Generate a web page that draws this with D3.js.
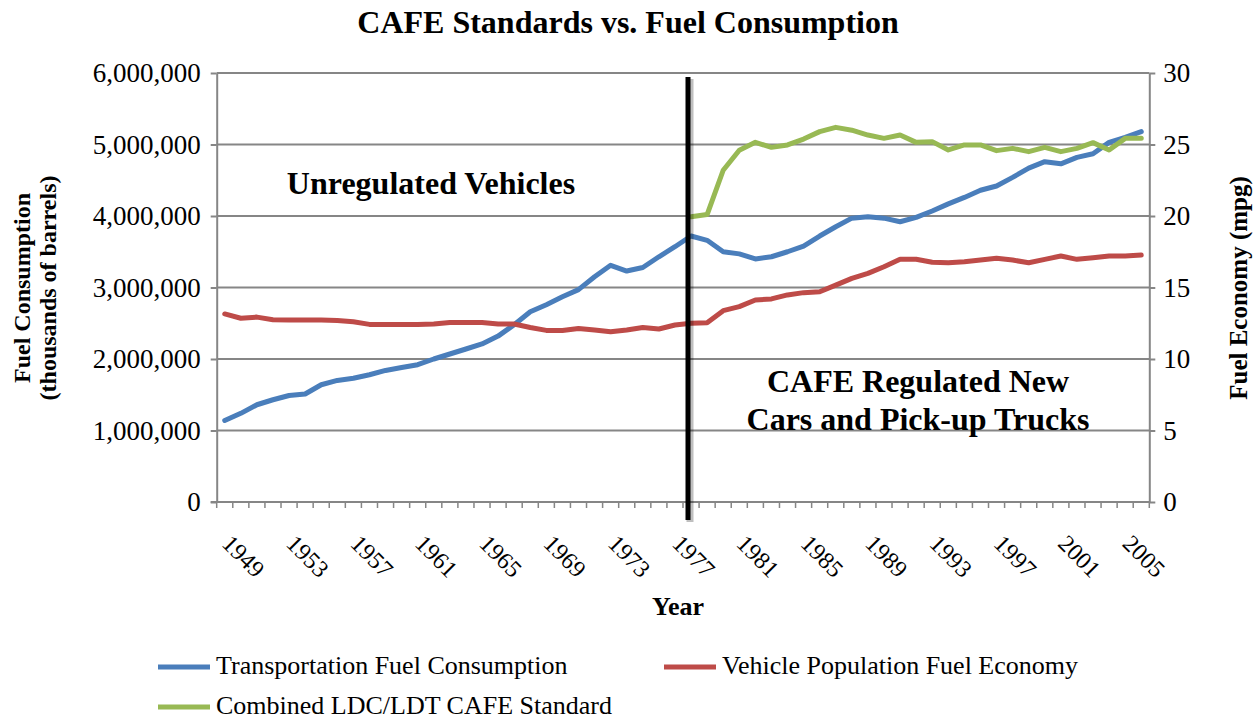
<!DOCTYPE html>
<html>
<head>
<meta charset="utf-8">
<script src="https://cdn.jsdelivr.net/npm/d3@7"></script>
<style>
  body { margin: 0; background: #fff; }
  text { font-family: "Liberation Serif", "Times New Roman", serif; fill: #000; }
</style>
</head>
<body>
<script>
const years = [
  1949, 1950, 1951, 1952, 1953, 1954, 1955, 1956, 1957, 1958,
  1959, 1960, 1961, 1962, 1963, 1964, 1965, 1966, 1967, 1968,
  1969, 1970, 1971, 1972, 1973, 1974, 1975, 1976, 1977, 1978,
  1979, 1980, 1981, 1982, 1983, 1984, 1985, 1986, 1987, 1988,
  1989, 1990, 1991, 1992, 1993, 1994, 1995, 1996, 1997, 1998,
  1999, 2000, 2001, 2002, 2003, 2004, 2005, 2006
];

// thousands of barrels
const fuelConsumption = [
  1140000, 1240000, 1360000, 1430000, 1490000, 1510000, 1640000, 1700000, 1730000, 1780000,
  1840000, 1880000, 1920000, 2000000, 2070000, 2140000, 2210000, 2320000, 2480000, 2660000,
  2760000, 2870000, 2970000, 3150000, 3310000, 3230000, 3280000, 3430000, 3570000, 3720000,
  3660000, 3500000, 3470000, 3400000, 3430000, 3500000, 3580000, 3720000, 3850000, 3970000,
  3990000, 3970000, 3920000, 3980000, 4070000, 4170000, 4260000, 4360000, 4420000, 4540000,
  4670000, 4760000, 4730000, 4820000, 4870000, 5030000, 5100000, 5180000
];

// mpg
const fleetEconomy = [
  13.15, 12.85, 12.93, 12.75, 12.73, 12.73, 12.73, 12.7, 12.6, 12.42,
  12.42, 12.42, 12.42, 12.45, 12.55, 12.55, 12.55, 12.45, 12.45, 12.2,
  12.0, 12.0, 12.14, 12.03, 11.9, 12.03, 12.2, 12.1, 12.38, 12.5,
  12.54, 13.38, 13.66, 14.13, 14.2, 14.48, 14.64, 14.7, 15.17, 15.64,
  15.99, 16.45, 16.97, 16.97, 16.76, 16.73, 16.8, 16.92, 17.04, 16.92,
  16.73, 16.97, 17.2, 16.97, 17.08, 17.2, 17.2, 17.27
];

const cafeStandard = [
  null, null, null, null, null, null, null, null, null, null,
  null, null, null, null, null, null, null, null, null, null,
  null, null, null, null, null, null, null, null, null, 19.95,
  20.1, 23.2, 24.6, 25.15, 24.8, 24.97, 25.38, 25.9, 26.2, 26.0,
  25.66, 25.43, 25.66, 25.15, 25.2, 24.62, 24.97, 24.97, 24.57, 24.73,
  24.5, 24.8, 24.5, 24.73, 25.13, 24.62, 25.43, 25.43
];

const leftTicks = [0, 1000000, 2000000, 3000000, 4000000, 5000000, 6000000];
const rightTicks = [0, 5, 10, 15, 20, 25, 30];
const labelYears = [1949, 1953, 1957, 1961, 1965, 1969, 1973, 1977, 1981, 1985, 1989, 1993, 1997, 2001, 2005];

const series = [
  { name: 'Transportation Fuel Consumption', values: fuelConsumption, axis: 'left', color: '#4a7ebb' },
  { name: 'Vehicle Population Fuel Economy', values: fleetEconomy, axis: 'right', color: '#be4b48' },
  { name: 'Combined LDC/LDT CAFE Standard', values: cafeStandard, axis: 'right', color: '#98b954' }
];

const width = 1260;
const height = 721;
const plot = { left: 216.7, right: 1149.3, top: 73, bottom: 502 };
const gridColor = '#868686';

const svg = d3.select('body')
  .append('svg')
  .attr('width', width)
  .attr('height', height);

const x = d3.scaleBand().domain(years).range([plot.left, plot.right]);
const cx = d => x(d) + x.bandwidth() / 2;
const yL = d3.scaleLinear().domain([0, 6000000]).range([plot.bottom, plot.top]);
const yR = d3.scaleLinear().domain([0, 30]).range([plot.bottom, plot.top]);

// title
svg.append('text')
  .attr('x', 628).attr('y', 33)
  .attr('text-anchor', 'middle')
  .style('font-size', '32px').style('font-weight', 'bold')
  .text('CAFE Standards vs. Fuel Consumption');

// gridlines
svg.append('g')
  .selectAll('line')
  .data(leftTicks.slice(1))
  .enter()
  .append('line')
  .attr('x1', plot.left).attr('x2', plot.right)
  .attr('y1', d => yL(d)).attr('y2', d => yL(d))
  .attr('stroke', gridColor).attr('stroke-width', 2);

// left axis
const leftAxis = svg.append('g')
  .attr('transform', `translate(${ plot.left },0)`)
  .call(d3.axisLeft(yL).tickValues(leftTicks).tickSize(6).tickSizeOuter(0).tickPadding(10).tickFormat(d3.format(',')));

// right axis
const rightAxis = svg.append('g')
  .attr('transform', `translate(${ plot.right },0)`)
  .call(d3.axisRight(yR).tickValues(rightTicks).tickSize(6).tickSizeOuter(0).tickPadding(8));

[leftAxis, rightAxis].forEach(g => {
  g.select('.domain').attr('stroke', gridColor).attr('stroke-width', 2);
  g.selectAll('.tick line').attr('stroke', gridColor).attr('stroke-width', 2);
  g.selectAll('.tick text')
    .style('font-family', '"Liberation Serif", "Times New Roman", serif')
    .style('font-size', '27px')
    .attr('fill', '#000');
});

// bottom axis
const bottom = svg.append('g');
bottom.append('line')
  .attr('x1', plot.left - 6).attr('x2', plot.right)
  .attr('y1', plot.bottom).attr('y2', plot.bottom)
  .attr('stroke', gridColor).attr('stroke-width', 2);

bottom.selectAll('.xtick')
  .data(years.map(d => x(d)).concat([plot.right]))
  .enter()
  .append('line')
  .attr('class', 'xtick')
  .attr('x1', d => d).attr('x2', d => d)
  .attr('y1', plot.bottom).attr('y2', plot.bottom + 6)
  .attr('stroke', gridColor).attr('stroke-width', 1.5);

bottom.selectAll('.xlabel')
  .data(labelYears)
  .enter()
  .append('text')
  .attr('class', 'xlabel')
  .attr('transform', d => `translate(${ cx(d) - 4 },${ plot.bottom + 43 }) rotate(45)`)
  .style('font-size', '24px')
  .text(d => d);

// axis titles
svg.append('text')
  .attr('x', 678).attr('y', 615)
  .attr('text-anchor', 'middle')
  .style('font-size', '26px').style('font-weight', 'bold')
  .text('Year');

const leftTitle = svg.append('text')
  .attr('transform', 'translate(30,288) rotate(-90)')
  .attr('text-anchor', 'middle')
  .style('font-size', '24px').style('font-weight', 'bold');
leftTitle.append('tspan').attr('x', 0).attr('dy', 0).text('Fuel Consumption');
leftTitle.append('tspan').attr('x', 0).attr('dy', 26).text('(thousands of barrels)');

svg.append('text')
  .attr('transform', 'translate(1247,288) rotate(-90)')
  .attr('text-anchor', 'middle')
  .style('font-size', '25px').style('font-weight', 'bold')
  .text('Fuel Economy (mpg)');

// annotations
svg.append('text')
  .attr('x', 431).attr('y', 194)
  .attr('text-anchor', 'middle')
  .style('font-size', '32px').style('font-weight', 'bold')
  .text('Unregulated Vehicles');

const regText = svg.append('text')
  .attr('text-anchor', 'middle')
  .style('font-size', '32px').style('font-weight', 'bold');
regText.append('tspan').attr('x', 918).attr('y', 392).text('CAFE Regulated New');
regText.append('tspan').attr('x', 918).attr('y', 430).text('Cars and Pick-up Trucks');

// lines
series.forEach(s => {
  const yScale = s.axis === 'left' ? yL : yR;
  const line = d3.line()
    .defined(d => d.v != null)
    .x(d => cx(d.year))
    .y(d => yScale(d.v));

  svg.append('path')
    .datum(years.map((year, i) => ({ year, v: s.values[i] })))
    .attr('d', line)
    .attr('fill', 'none')
    .attr('stroke', s.color)
    .attr('stroke-width', 5)
    .attr('stroke-linejoin', 'round')
    .attr('stroke-linecap', 'round');
});

// CAFE start divider
const divX = x(1978) + 5;
svg.append('line')
  .attr('x1', divX + 2).attr('x2', divX + 2)
  .attr('y1', 79).attr('y2', 522)
  .attr('stroke', '#000').attr('stroke-opacity', 0.25).attr('stroke-width', 7);
svg.append('line')
  .attr('x1', divX).attr('x2', divX)
  .attr('y1', 77).attr('y2', 520)
  .attr('stroke', '#000').attr('stroke-width', 5);

// legend
const legendItems = [
  { s: series[0], x: 158, y: 667 },
  { s: series[1], x: 664, y: 667 },
  { s: series[2], x: 158, y: 707 }
];
const legend = svg.append('g')
  .selectAll('g')
  .data(legendItems)
  .enter()
  .append('g')
  .attr('transform', d => `translate(${ d.x },${ d.y })`);

legend.append('line')
  .attr('x1', 0).attr('x2', 52)
  .attr('stroke', d => d.s.color)
  .attr('stroke-width', 5);

legend.append('text')
  .attr('x', 58).attr('y', 7)
  .style('font-size', '26px')
  .text(d => d.s.name);
</script>
</body>
</html>
